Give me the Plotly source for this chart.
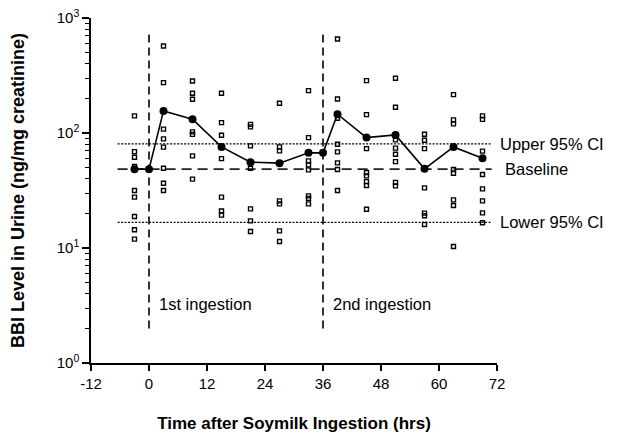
import plotly.graph_objects as go
import math

# ---- data ----
mean_hours = [-3, 0, 3, 9, 15, 21, 27, 33, 36, 39, 45, 51, 57, 63, 69]
mean_values = [48.5, 48.5, 155.6, 131.8, 75.7, 55.8, 54.7, 67.2, 67.2, 145.6, 91.2, 96.3, 48.8, 75.7, 60.4]

individual = {
    -3: [140.8, 68.9, 61.6, 51.1, 31.6, 27.7, 18.8, 14.4, 11.95],
    3: [571, 274, 108, 88.9, 75.3, 49.4, 36.6, 31.6],
    9: [283.6, 221.8, 196.7, 102.2, 97.2, 63.2, 39.7],
    15: [221.8, 123.1, 95.7, 59.9, 27.7, 21.0, 19.3],
    21: [118.8, 113.0, 77.3, 49.4, 21.9, 17.2, 13.9],
    27: [181.5, 75.7, 69.9, 25.7, 24.2, 14.1, 11.4],
    33: [233.6, 91.2, 57.2, 52.8, 47.8, 28.4, 27.0, 24.2],
    39: [657, 197.8, 134.5, 79.9, 68.5, 55.0, 48.1, 31.6],
    45: [285.3, 144.5, 73.2, 45.3, 42.4, 37.8, 35.0, 21.7],
    51: [299.3, 167.6, 87.1, 73.8, 65.4, 56.4, 37.2, 34.7],
    57: [97.6, 86.6, 73.2, 49.4, 33.3, 20.1, 19.1, 16.0],
    63: [215.6, 130.0, 120.0, 48.1, 44.7, 26.2, 23.4, 10.3],
    69: [140.8, 131.3, 69.5, 43.5, 32.7, 25.7, 20.2, 16.6],
}

baseline = 48.5
upper_ci = 80.4
lower_ci = 16.7
ref_span = [-6.5, 70.9]
ingestion_hours = [0, 36]
ingestion_span = [2.0, 750]
ingestion_labels = ["1st ingestion", "2nd ingestion"]

x_ticks = [-12, 0, 12, 24, 36, 48, 60, 72]
x_range = [-12, 72]
y_ticks = [1, 10, 100, 1000]
y_ticktext = ["10<sup>0</sup>", "10<sup>1</sup>", "10<sup>2</sup>", "10<sup>3</sup>"]
minor_y = [m * 10 ** e for e in range(0, 3) for m in range(2, 10)]

FONT = "Liberation Sans, Arial, Helvetica, sans-serif"


def xpaper(h):
    return (h - x_range[0]) / (x_range[1] - x_range[0])


fig = go.Figure()

# reference lines
fig.add_trace(go.Scatter(x=ref_span, y=[upper_ci, upper_ci], mode="lines",
                         line=dict(color="black", width=1.2, dash="2px,1.5px"), hoverinfo="skip"))
fig.add_trace(go.Scatter(x=ref_span, y=[lower_ci, lower_ci], mode="lines",
                         line=dict(color="black", width=1.2, dash="2px,1.5px"), hoverinfo="skip"))
fig.add_trace(go.Scatter(x=ref_span, y=[baseline, baseline], mode="lines",
                         line=dict(color="#222", width=1.6, dash="10px,6px"), hoverinfo="skip"))

for h in ingestion_hours:
    fig.add_trace(go.Scatter(x=[h, h], y=ingestion_span, mode="lines",
                             line=dict(color="black", width=1.6, dash="8px,5px"), hoverinfo="skip"))

# individual points
xs, ys = [], []
for h, vals in individual.items():
    for v in vals:
        xs.append(h)
        ys.append(v)
fig.add_trace(go.Scatter(x=xs, y=ys, mode="markers",
                         marker=dict(symbol="square-open", size=4, color="black",
                                     line=dict(width=1.4, color="black"))))

# mean line
fig.add_trace(go.Scatter(x=mean_hours, y=mean_values, mode="lines+markers",
                         line=dict(color="black", width=1.6),
                         marker=dict(symbol="circle", size=8, color="black")))

# annotations
ann_font = dict(family=FONT, size=16.5, color="black")
fig.add_annotation(x=xpaper(72.3), y=math.log10(upper_ci), xref="paper", yref="y", text="Upper 95% CI",
                   showarrow=False, xanchor="left", yanchor="middle", font=ann_font)
fig.add_annotation(x=xpaper(73.2), y=math.log10(baseline), xref="paper", yref="y", text="Baseline",
                   showarrow=False, xanchor="left", yanchor="middle", font=ann_font)
fig.add_annotation(x=xpaper(72.3), y=math.log10(lower_ci), xref="paper", yref="y", text="Lower 95% CI",
                   showarrow=False, xanchor="left", yanchor="middle", font=ann_font)
for h, lab in zip(ingestion_hours, ingestion_labels):
    fig.add_annotation(x=h + 1.7, y=0.51, xref="x", yref="y", text=lab,
                       showarrow=False, xanchor="left", yanchor="middle", font=ann_font)

fig.update_layout(
    width=609, height=428,
    margin=dict(l=83, r=120, t=10, b=73),
    paper_bgcolor="white", plot_bgcolor="white",
    showlegend=False,
    font=dict(family=FONT, size=15, color="black"),
    xaxis=dict(range=x_range, tickvals=x_ticks, ticktext=[str(t) for t in x_ticks],
               automargin=False, ticklabeloverflow="allow",
               showline=True, linecolor="black", linewidth=1.5, ticks="outside",
               ticklen=6, tickwidth=1.5, tickcolor="black", showgrid=False, zeroline=False,
               title=dict(text="<b>Time after Soymilk Ingestion (hrs)</b>", standoff=26,
                          font=dict(family=FONT, size=17))),
    yaxis=dict(type="log", range=[0, 3], tickvals=y_ticks, ticktext=y_ticktext,
               automargin=False, ticklabeloverflow="allow",
               showline=True, linecolor="black", linewidth=1.5, ticks="outside",
               ticklen=7, tickwidth=1.5, tickcolor="black", showgrid=False, zeroline=False,
               minor=dict(tickvals=minor_y, ticks="outside", ticklen=4, tickwidth=1.2,
                          tickcolor="black", showgrid=False),
               title=dict(text="<b>BBI Level in Urine (ng/mg creatinine)</b>", standoff=32,
                          font=dict(family=FONT, size=18))),
)

fig.write_html("out.html")
